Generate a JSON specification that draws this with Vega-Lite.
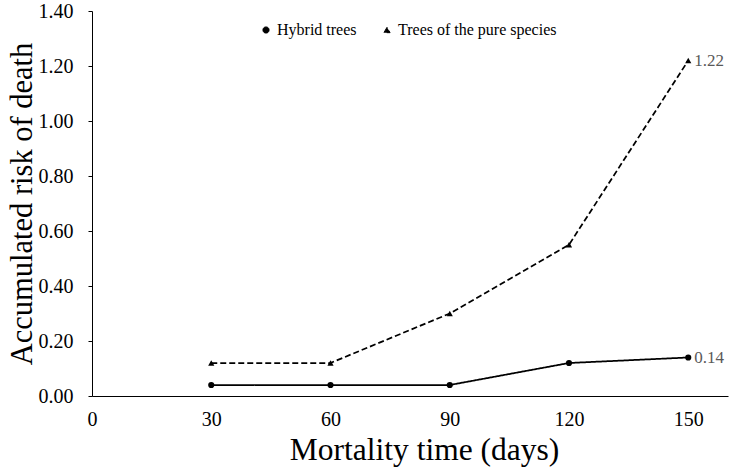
{
  "$schema": "https://vega.github.io/schema/vega-lite/v6.json",
  "width": 636,
  "height": 385,
  "autosize": {"type": "none"},
  "padding": {"left": 92, "top": 11, "right": 1, "bottom": 74},
  "background": "white",
  "config": {
    "view": {"stroke": null},
    "font": "Liberation Serif",
    "axis": {"grid": false, "domainColor": "#000000", "domainWidth": 1, "tickColor": "#000000", "labelColor": "#000000", "titleColor": "#000000", "labelFont": "Liberation Serif", "titleFont": "Liberation Serif", "labelFontSize": 20, "titleFontWeight": "normal"}
  },
  "data": {
    "values": [
      {"day": 30, "risk": 0.04, "series": "Hybrid trees"},
      {"day": 60, "risk": 0.04, "series": "Hybrid trees"},
      {"day": 90, "risk": 0.04, "series": "Hybrid trees"},
      {"day": 120, "risk": 0.12, "series": "Hybrid trees"},
      {"day": 150, "risk": 0.14, "series": "Hybrid trees"},
      {"day": 30, "risk": 0.12, "series": "Trees of the pure species"},
      {"day": 60, "risk": 0.12, "series": "Trees of the pure species"},
      {"day": 90, "risk": 0.30, "series": "Trees of the pure species"},
      {"day": 120, "risk": 0.55, "series": "Trees of the pure species"},
      {"day": 150, "risk": 1.22, "series": "Trees of the pure species"}
    ]
  },
  "encoding": {
    "x": {"field": "day", "type": "quantitative", "scale": {"domain": [0, 160], "nice": false}, "axis": {"values": [0, 30, 60, 90, 120, 150], "ticks": false, "labelFont": "Liberation Serif", "labelPadding": 13, "title": "Mortality time (days)", "titleFont": "Liberation Serif", "titleFontSize": 31.5, "titlePadding": 5, "titleX": 332, "labelFlush": false}},
    "y": {"field": "risk", "type": "quantitative", "scale": {"domain": [0, 1.4], "nice": false}, "axis": {"values": [0, 0.2, 0.4, 0.6, 0.8, 1.0, 1.2, 1.4], "format": ".2f", "tickSize": 4, "labelFont": "Liberation Serif", "labelPadding": 15, "title": "Accumulated risk of death", "titleFont": "Liberation Serif", "titleFontSize": 30.5, "titlePadding": 1, "labelFlush": false}}
  },
  "layer": [
    {
      "mark": {"type": "line", "color": "#000000", "strokeWidth": 1.75},
      "encoding": {
        "strokeDash": {"field": "series", "type": "nominal", "scale": {"domain": ["Hybrid trees", "Trees of the pure species"], "range": [[1, 0], [6, 3]]}}
      }
    },
    {
      "mark": {"type": "point", "filled": true, "color": "#000000", "opacity": 1, "size": 38},
      "encoding": {
        "shape": {"field": "series", "type": "nominal", "scale": {"domain": ["Hybrid trees", "Trees of the pure species"], "range": ["circle", "triangle-up"]},
          "legend": {"title": null, "orient": "none", "legendX": 166, "legendY": 11, "padding": 0, "direction": "horizontal", "labelFont": "Liberation Serif", "labelFontSize": 16, "labelColor": "#000000", "symbolFillColor": "#000000", "symbolStrokeColor": "#000000", "symbolSize": 38, "symbolStrokeWidth": 1, "columnPadding": 22, "labelOffset": 3}}
      }
    },
    {
      "transform": [{"filter": "datum.day == 150"}],
      "mark": {"type": "text", "align": "left", "dx": 6, "baseline": "middle", "fontSize": 17, "color": "#595959", "font": "Liberation Serif"},
      "encoding": {"text": {"field": "risk", "type": "quantitative", "format": ".2f"}}
    }
  ]
}
